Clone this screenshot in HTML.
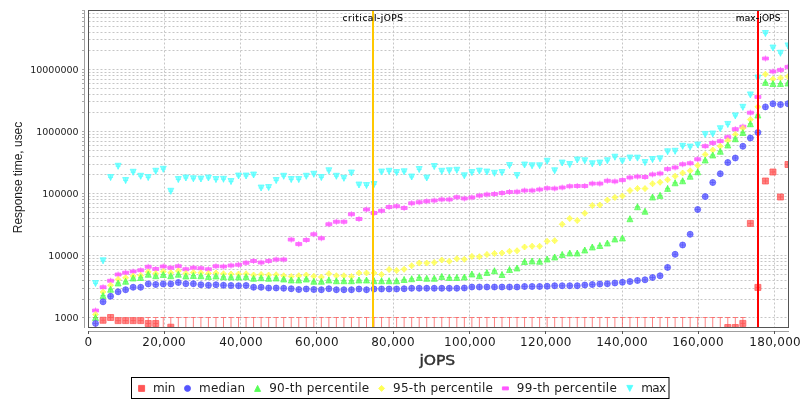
<!DOCTYPE html>
<html><head><meta charset="utf-8"><title>Response time vs jOPS</title>
<style>html,body{margin:0;padding:0;background:#fff;}body{width:800px;height:400px;overflow:hidden;}svg{display:block;}text{font-family:"DejaVu Sans","Liberation Sans",sans-serif;fill:#1c1c1c;}.yl{font-family:"Liberation Sans","DejaVu Sans",sans-serif;}</style></head><body>
<svg width="800" height="400" viewBox="0 0 800 400" style="will-change:transform">
<rect x="0" y="0" width="800" height="400" fill="#ffffff"/>
<defs><clipPath id="cp"><rect x="88.5" y="10.5" width="700" height="317"/></clipPath></defs>
<g stroke="#c0c0c0" stroke-width="1" stroke-dasharray="2,2" fill="none" shape-rendering="auto" opacity="0.9">
<line x1="88.5" y1="317.5" x2="788.5" y2="317.5"/>
<line x1="88.5" y1="299.5" x2="788.5" y2="299.5"/>
<line x1="88.5" y1="288.5" x2="788.5" y2="288.5"/>
<line x1="88.5" y1="280.5" x2="788.5" y2="280.5"/>
<line x1="88.5" y1="274.5" x2="788.5" y2="274.5"/>
<line x1="88.5" y1="269.5" x2="788.5" y2="269.5"/>
<line x1="88.5" y1="265.5" x2="788.5" y2="265.5"/>
<line x1="88.5" y1="261.5" x2="788.5" y2="261.5"/>
<line x1="88.5" y1="258.5" x2="788.5" y2="258.5"/>
<line x1="88.5" y1="255.5" x2="788.5" y2="255.5"/>
<line x1="88.5" y1="236.5" x2="788.5" y2="236.5"/>
<line x1="88.5" y1="226.5" x2="788.5" y2="226.5"/>
<line x1="88.5" y1="218.5" x2="788.5" y2="218.5"/>
<line x1="88.5" y1="212.5" x2="788.5" y2="212.5"/>
<line x1="88.5" y1="207.5" x2="788.5" y2="207.5"/>
<line x1="88.5" y1="203.5" x2="788.5" y2="203.5"/>
<line x1="88.5" y1="199.5" x2="788.5" y2="199.5"/>
<line x1="88.5" y1="196.5" x2="788.5" y2="196.5"/>
<line x1="88.5" y1="193.5" x2="788.5" y2="193.5"/>
<line x1="88.5" y1="174.5" x2="788.5" y2="174.5"/>
<line x1="88.5" y1="164.5" x2="788.5" y2="164.5"/>
<line x1="88.5" y1="156.5" x2="788.5" y2="156.5"/>
<line x1="88.5" y1="150.5" x2="788.5" y2="150.5"/>
<line x1="88.5" y1="145.5" x2="788.5" y2="145.5"/>
<line x1="88.5" y1="141.5" x2="788.5" y2="141.5"/>
<line x1="88.5" y1="137.5" x2="788.5" y2="137.5"/>
<line x1="88.5" y1="134.5" x2="788.5" y2="134.5"/>
<line x1="88.5" y1="131.5" x2="788.5" y2="131.5"/>
<line x1="88.5" y1="112.5" x2="788.5" y2="112.5"/>
<line x1="88.5" y1="101.5" x2="788.5" y2="101.5"/>
<line x1="88.5" y1="94.5" x2="788.5" y2="94.5"/>
<line x1="88.5" y1="88.5" x2="788.5" y2="88.5"/>
<line x1="88.5" y1="83.5" x2="788.5" y2="83.5"/>
<line x1="88.5" y1="79.5" x2="788.5" y2="79.5"/>
<line x1="88.5" y1="75.5" x2="788.5" y2="75.5"/>
<line x1="88.5" y1="72.5" x2="788.5" y2="72.5"/>
<line x1="88.5" y1="69.5" x2="788.5" y2="69.5"/>
<line x1="88.5" y1="50.5" x2="788.5" y2="50.5"/>
<line x1="88.5" y1="39.5" x2="788.5" y2="39.5"/>
<line x1="88.5" y1="32.5" x2="788.5" y2="32.5"/>
<line x1="88.5" y1="26.5" x2="788.5" y2="26.5"/>
<line x1="88.5" y1="21.5" x2="788.5" y2="21.5"/>
<line x1="88.5" y1="17.5" x2="788.5" y2="17.5"/>
<line x1="88.5" y1="13.5" x2="788.5" y2="13.5"/>
<line x1="164.5" y1="10.5" x2="164.5" y2="327.5"/>
<line x1="240.5" y1="10.5" x2="240.5" y2="327.5"/>
<line x1="316.5" y1="10.5" x2="316.5" y2="327.5"/>
<line x1="393.5" y1="10.5" x2="393.5" y2="327.5"/>
<line x1="469.5" y1="10.5" x2="469.5" y2="327.5"/>
<line x1="545.5" y1="10.5" x2="545.5" y2="327.5"/>
<line x1="622.5" y1="10.5" x2="622.5" y2="327.5"/>
<line x1="698.5" y1="10.5" x2="698.5" y2="327.5"/>
<line x1="774.5" y1="10.5" x2="774.5" y2="327.5"/>
</g>
<g clip-path="url(#cp)">
<path d="M93.03 283.50h5M95.53 280.50v6M100.55 260.80h5M103.05 257.80v6M108.08 177.50h5M110.58 174.50v6M115.61 166.25h5M118.11 163.25v6M123.13 180.50h5M125.63 177.50v6M130.66 172.25h5M133.16 169.25v6M138.19 176.25h5M140.69 173.25v6M145.72 177.50h5M148.22 174.50v6M153.24 171.25h5M155.74 168.25v6M160.77 169.25h5M163.27 166.25v6M168.30 191.25h5M170.80 188.25v6M175.82 179.50h5M178.32 176.50v6M183.35 178.00h5M185.85 175.00v6M190.88 178.75h5M193.38 175.75v6M198.41 179.00h5M200.91 176.00v6M205.93 178.00h5M208.43 175.00v6M213.46 179.50h5M215.96 176.50v6M220.99 179.25h5M223.49 176.25v6M228.51 181.50h5M231.01 178.50v6M236.04 176.00h5M238.54 173.00v6M243.57 176.00h5M246.07 173.00v6M251.09 175.00h5M253.59 172.00v6M258.62 188.00h5M261.12 185.00v6M266.15 187.50h5M268.65 184.50v6M273.68 180.50h5M276.18 177.50v6M281.20 176.25h5M283.70 173.25v6M288.73 179.50h5M291.23 176.50v6M296.26 179.50h5M298.76 176.50v6M303.78 176.25h5M306.28 173.25v6M311.31 174.25h5M313.81 171.25v6M318.84 177.50h5M321.34 174.50v6M326.36 170.75h5M328.86 167.75v6M333.89 176.25h5M336.39 173.25v6M341.42 178.25h5M343.92 175.25v6M348.94 173.00h5M351.44 170.00v6M356.47 185.00h5M358.97 182.00v6M364.00 185.50h5M366.50 182.50v6M371.53 184.50h5M374.03 181.50v6M379.05 172.00h5M381.55 169.00v6M386.58 171.25h5M389.08 168.25v6M394.11 172.50h5M396.61 169.50v6M401.63 171.75h5M404.13 168.75v6M409.16 177.00h5M411.66 174.00v6M416.69 169.50h5M419.19 166.50v6M424.22 178.00h5M426.72 175.00v6M431.74 166.50h5M434.24 163.50v6M439.27 171.25h5M441.77 168.25v6M446.80 170.75h5M449.30 167.75v6M454.32 170.25h5M456.82 167.25v6M461.85 175.75h5M464.35 172.75v6M469.38 172.50h5M471.88 169.50v6M476.90 171.10h5M479.40 168.10v6M484.43 172.00h5M486.93 169.00v6M491.96 173.25h5M494.46 170.25v6M499.49 172.50h5M501.99 169.50v6M507.01 165.50h5M509.51 162.50v6M514.54 175.50h5M517.04 172.50v6M522.07 165.00h5M524.57 162.00v6M529.59 165.75h5M532.09 162.75v6M537.12 165.75h5M539.62 162.75v6M544.65 161.25h5M547.15 158.25v6M552.17 170.75h5M554.67 167.75v6M559.70 163.00h5M562.20 160.00v6M567.23 164.50h5M569.73 161.50v6M574.75 160.00h5M577.25 157.00v6M582.28 160.75h5M584.78 157.75v6M589.81 163.75h5M592.31 160.75v6M597.34 163.00h5M599.84 160.00v6M604.86 160.75h5M607.36 157.75v6M612.39 157.20h5M614.89 154.20v6M619.92 161.00h5M622.42 158.00v6M627.44 158.00h5M629.94 155.00v6M634.97 158.10h5M637.47 155.10v6M642.50 162.50h5M645.00 159.50v6M650.02 159.50h5M652.52 156.50v6M657.55 158.75h5M660.05 155.75v6M665.08 151.75h5M667.58 148.75v6M672.61 151.25h5M675.11 148.25v6M680.13 146.25h5M682.63 143.25v6M687.66 147.00h5M690.16 144.00v6M695.19 145.00h5M697.69 142.00v6M702.71 134.45h5M705.21 131.45v6M710.24 133.95h5M712.74 130.95v6M717.77 128.70h5M720.27 125.70v6M725.29 124.45h5M727.79 121.45v6M732.82 115.90h5M735.32 112.90v6M740.35 107.30h5M742.85 104.30v6M747.88 94.90h5M750.38 91.90v6M755.40 78.00h5M757.90 75.00v6M762.93 33.50h5M765.43 30.50v6M770.46 48.00h5M772.96 45.00v6M777.98 53.25h5M780.48 50.25v6M785.51 45.90h5M788.01 42.90v6" fill="none" stroke="rgb(85,255,255)" stroke-width="1" stroke-opacity="0.72"/>
<path d="M93.03 310.50h5M95.53 307.50v6M100.55 287.25h5M103.05 284.25v6M108.08 280.75h5M110.58 277.75v6M115.61 274.50h5M118.11 271.50v6M123.13 272.75h5M125.63 269.75v6M130.66 271.50h5M133.16 268.50v6M138.19 270.25h5M140.69 267.25v6M145.72 266.75h5M148.22 263.75v6M153.24 269.00h5M155.74 266.00v6M160.77 266.50h5M163.27 263.50v6M168.30 267.75h5M170.80 264.75v6M175.82 266.25h5M178.32 263.25v6M183.35 269.25h5M185.85 266.25v6M190.88 267.75h5M193.38 264.75v6M198.41 268.25h5M200.91 265.25v6M205.93 269.25h5M208.43 266.25v6M213.46 266.25h5M215.96 263.25v6M220.99 266.50h5M223.49 263.50v6M228.51 265.50h5M231.01 262.50v6M236.04 264.75h5M238.54 261.75v6M243.57 262.75h5M246.07 259.75v6M251.09 261.00h5M253.59 258.00v6M258.62 262.50h5M261.12 259.50v6M266.15 261.00h5M268.65 258.00v6M273.68 259.50h5M276.18 256.50v6M281.20 259.50h5M283.70 256.50v6M288.73 239.60h5M291.23 236.60v6M296.26 244.10h5M298.76 241.10v6M303.78 240.00h5M306.28 237.00v6M311.31 234.25h5M313.81 231.25v6M318.84 238.25h5M321.34 235.25v6M326.36 224.25h5M328.86 221.25v6M333.89 221.75h5M336.39 218.75v6M341.42 221.75h5M343.92 218.75v6M348.94 214.25h5M351.44 211.25v6M356.47 219.00h5M358.97 216.00v6M364.00 209.50h5M366.50 206.50v6M371.53 213.00h5M374.03 210.00v6M379.05 210.75h5M381.55 207.75v6M386.58 207.00h5M389.08 204.00v6M394.11 206.25h5M396.61 203.25v6M401.63 208.00h5M404.13 205.00v6M409.16 203.25h5M411.66 200.25v6M416.69 202.25h5M419.19 199.25v6M424.22 201.25h5M426.72 198.25v6M431.74 200.50h5M434.24 197.50v6M439.27 199.50h5M441.77 196.50v6M446.80 199.50h5M449.30 196.50v6M454.32 197.25h5M456.82 194.25v6M461.85 198.50h5M464.35 195.50v6M469.38 197.40h5M471.88 194.40v6M476.90 195.60h5M479.40 192.60v6M484.43 194.50h5M486.93 191.50v6M491.96 194.00h5M494.46 191.00v6M499.49 193.00h5M501.99 190.00v6M507.01 192.00h5M509.51 189.00v6M514.54 191.75h5M517.04 188.75v6M522.07 190.50h5M524.57 187.50v6M529.59 190.50h5M532.09 187.50v6M537.12 189.50h5M539.62 186.50v6M544.65 188.25h5M547.15 185.25v6M552.17 188.50h5M554.67 185.50v6M559.70 187.50h5M562.20 184.50v6M567.23 186.25h5M569.73 183.25v6M574.75 186.00h5M577.25 183.00v6M582.28 186.00h5M584.78 183.00v6M589.81 183.60h5M592.31 180.60v6M597.34 183.60h5M599.84 180.60v6M604.86 180.75h5M607.36 177.75v6M612.39 181.40h5M614.89 178.40v6M619.92 180.10h5M622.42 177.10v6M627.44 177.50h5M629.94 174.50v6M634.97 176.60h5M637.47 173.60v6M642.50 177.00h5M645.00 174.00v6M650.02 174.40h5M652.52 171.40v6M657.55 173.50h5M660.05 170.50v6M665.08 169.10h5M667.58 166.10v6M672.61 167.50h5M675.11 164.50v6M680.13 164.25h5M682.63 161.25v6M687.66 163.25h5M690.16 160.25v6M695.19 159.25h5M697.69 156.25v6M702.71 146.15h5M705.21 143.15v6M710.24 142.90h5M712.74 139.90v6M717.77 141.15h5M720.27 138.15v6M725.29 137.15h5M727.79 134.15v6M732.82 129.15h5M735.32 126.15v6M740.35 126.65h5M742.85 123.65v6M747.88 112.70h5M750.38 109.70v6M755.40 96.90h5M757.90 93.90v6M762.93 58.50h5M765.43 55.50v6M770.46 71.50h5M772.96 68.50v6M777.98 69.90h5M780.48 66.90v6M785.51 66.90h5M788.01 63.90v6" fill="none" stroke="rgb(255,85,255)" stroke-width="1" stroke-opacity="0.72"/>
<path d="M93.03 314.50h5M95.53 311.50v6M100.55 292.00h5M103.05 289.00v6M108.08 285.25h5M110.58 282.25v6M115.61 279.40h5M118.11 276.40v6M123.13 277.75h5M125.63 274.75v6M130.66 276.00h5M133.16 273.00v6M138.19 275.40h5M140.69 272.40v6M145.72 271.90h5M148.22 268.90v6M153.24 273.50h5M155.74 270.50v6M160.77 271.60h5M163.27 268.60v6M168.30 272.75h5M170.80 269.75v6M175.82 270.90h5M178.32 267.90v6M183.35 273.50h5M185.85 270.50v6M190.88 272.50h5M193.38 269.50v6M198.41 272.75h5M200.91 269.75v6M205.93 273.50h5M208.43 270.50v6M213.46 273.00h5M215.96 270.00v6M220.99 273.75h5M223.49 270.75v6M228.51 274.00h5M231.01 271.00v6M236.04 274.00h5M238.54 271.00v6M243.57 273.75h5M246.07 270.75v6M251.09 275.00h5M253.59 272.00v6M258.62 274.50h5M261.12 271.50v6M266.15 275.00h5M268.65 272.00v6M273.68 274.75h5M276.18 271.75v6M281.20 275.75h5M283.70 272.75v6M288.73 276.50h5M291.23 273.50v6M296.26 275.75h5M298.76 272.75v6M303.78 275.00h5M306.28 272.00v6M311.31 276.25h5M313.81 273.25v6M318.84 277.00h5M321.34 274.00v6M326.36 273.75h5M328.86 270.75v6M333.89 275.75h5M336.39 272.75v6M341.42 275.75h5M343.92 272.75v6M348.94 276.50h5M351.44 273.50v6M356.47 273.00h5M358.97 270.00v6M364.00 273.00h5M366.50 270.00v6M371.53 273.00h5M374.03 270.00v6M379.05 274.50h5M381.55 271.50v6M386.58 269.50h5M389.08 266.50v6M394.11 270.50h5M396.61 267.50v6M401.63 269.25h5M404.13 266.25v6M409.16 265.75h5M411.66 262.75v6M416.69 263.00h5M419.19 260.00v6M424.22 263.00h5M426.72 260.00v6M431.74 262.50h5M434.24 259.50v6M439.27 260.00h5M441.77 257.00v6M446.80 261.25h5M449.30 258.25v6M454.32 258.75h5M456.82 255.75v6M461.85 259.25h5M464.35 256.25v6M469.38 256.40h5M471.88 253.40v6M476.90 256.75h5M479.40 253.75v6M484.43 254.50h5M486.93 251.50v6M491.96 253.50h5M494.46 250.50v6M499.49 253.00h5M501.99 250.00v6M507.01 251.25h5M509.51 248.25v6M514.54 250.75h5M517.04 247.75v6M522.07 247.00h5M524.57 244.00v6M529.59 246.25h5M532.09 243.25v6M537.12 246.25h5M539.62 243.25v6M544.65 241.25h5M547.15 238.25v6M552.17 240.70h5M554.67 237.70v6M559.70 224.25h5M562.20 221.25v6M567.23 218.50h5M569.73 215.50v6M574.75 220.50h5M577.25 217.50v6M582.28 213.25h5M584.78 210.25v6M589.81 205.50h5M592.31 202.50v6M597.34 205.00h5M599.84 202.00v6M604.86 200.00h5M607.36 197.00v6M612.39 197.40h5M614.89 194.40v6M619.92 196.00h5M622.42 193.00v6M627.44 190.50h5M629.94 187.50v6M634.97 188.50h5M637.47 185.50v6M642.50 188.60h5M645.00 185.60v6M650.02 183.75h5M652.52 180.75v6M657.55 182.25h5M660.05 179.25v6M665.08 179.75h5M667.58 176.75v6M672.61 176.25h5M675.11 173.25v6M680.13 173.00h5M682.63 170.00v6M687.66 170.75h5M690.16 167.75v6M695.19 165.50h5M697.69 162.50v6M702.71 154.50h5M705.21 151.50v6M710.24 150.00h5M712.74 147.00v6M717.77 146.25h5M720.27 143.25v6M725.29 140.50h5M727.79 137.50v6M732.82 134.50h5M735.32 131.50v6M740.35 128.25h5M742.85 125.25v6M747.88 119.50h5M750.38 116.50v6M755.40 106.80h5M757.90 103.80v6M762.93 74.20h5M765.43 71.20v6M770.46 79.10h5M772.96 76.10v6M777.98 77.90h5M780.48 74.90v6M785.51 76.60h5M788.01 73.60v6" fill="none" stroke="rgb(255,255,85)" stroke-width="1" stroke-opacity="0.72"/>
<path d="M93.03 317.50h5M95.53 314.50v6M100.55 295.50h5M103.05 292.50v6M108.08 289.25h5M110.58 286.25v6M115.61 283.00h5M118.11 280.00v6M123.13 281.25h5M125.63 278.25v6M130.66 278.00h5M133.16 275.00v6M138.19 277.50h5M140.69 274.50v6M145.72 274.25h5M148.22 271.25v6M153.24 275.75h5M155.74 272.75v6M160.77 274.50h5M163.27 271.50v6M168.30 275.75h5M170.80 272.75v6M175.82 274.25h5M178.32 271.25v6M183.35 276.00h5M185.85 273.00v6M190.88 275.50h5M193.38 272.50v6M198.41 275.75h5M200.91 272.75v6M205.93 276.50h5M208.43 273.50v6M213.46 276.00h5M215.96 273.00v6M220.99 276.75h5M223.49 273.75v6M228.51 277.00h5M231.01 274.00v6M236.04 277.00h5M238.54 274.00v6M243.57 276.75h5M246.07 273.75v6M251.09 278.25h5M253.59 275.25v6M258.62 277.75h5M261.12 274.75v6M266.15 278.25h5M268.65 275.25v6M273.68 278.00h5M276.18 275.00v6M281.20 279.00h5M283.70 276.00v6M288.73 280.00h5M291.23 277.00v6M296.26 280.00h5M298.76 277.00v6M303.78 279.00h5M306.28 276.00v6M311.31 281.25h5M313.81 278.25v6M318.84 281.25h5M321.34 278.25v6M326.36 280.00h5M328.86 277.00v6M333.89 280.75h5M336.39 277.75v6M341.42 280.75h5M343.92 277.75v6M348.94 280.75h5M351.44 277.75v6M356.47 280.00h5M358.97 277.00v6M364.00 280.00h5M366.50 277.00v6M371.53 280.75h5M374.03 277.75v6M379.05 280.75h5M381.55 277.75v6M386.58 280.75h5M389.08 277.75v6M394.11 280.75h5M396.61 277.75v6M401.63 279.50h5M404.13 276.50v6M409.16 278.75h5M411.66 275.75v6M416.69 277.50h5M419.19 274.50v6M424.22 278.25h5M426.72 275.25v6M431.74 278.25h5M434.24 275.25v6M439.27 276.50h5M441.77 273.50v6M446.80 277.50h5M449.30 274.50v6M454.32 277.50h5M456.82 274.50v6M461.85 277.00h5M464.35 274.00v6M469.38 274.00h5M471.88 271.00v6M476.90 275.75h5M479.40 272.75v6M484.43 272.50h5M486.93 269.50v6M491.96 270.75h5M494.46 267.75v6M499.49 274.50h5M501.99 271.50v6M507.01 269.50h5M509.51 266.50v6M514.54 268.00h5M517.04 265.00v6M522.07 261.50h5M524.57 258.50v6M529.59 261.00h5M532.09 258.00v6M537.12 261.25h5M539.62 258.25v6M544.65 259.00h5M547.15 256.00v6M552.17 257.00h5M554.67 254.00v6M559.70 254.50h5M562.20 251.50v6M567.23 253.00h5M569.73 250.00v6M574.75 253.00h5M577.25 250.00v6M582.28 250.00h5M584.78 247.00v6M589.81 247.00h5M592.31 244.00v6M597.34 245.50h5M599.84 242.50v6M604.86 243.00h5M607.36 240.00v6M612.39 239.00h5M614.89 236.00v6M619.92 238.00h5M622.42 235.00v6M627.44 218.75h5M629.94 215.75v6M634.97 206.75h5M637.47 203.75v6M642.50 211.25h5M645.00 208.25v6M650.02 197.00h5M652.52 194.00v6M657.55 195.40h5M660.05 192.40v6M665.08 188.40h5M667.58 185.40v6M672.61 182.80h5M675.11 179.80v6M680.13 180.80h5M682.63 177.80v6M687.66 176.25h5M690.16 173.25v6M695.19 171.75h5M697.69 168.75v6M702.71 160.00h5M705.21 157.00v6M710.24 155.00h5M712.74 152.00v6M717.77 151.25h5M720.27 148.25v6M725.29 145.00h5M727.79 142.00v6M732.82 138.75h5M735.32 135.75v6M740.35 132.50h5M742.85 129.50v6M747.88 123.75h5M750.38 120.75v6M755.40 115.00h5M757.90 112.00v6M762.93 82.40h5M765.43 79.40v6M770.46 83.50h5M772.96 80.50v6M777.98 83.50h5M780.48 80.50v6M785.51 83.00h5M788.01 80.00v6" fill="none" stroke="rgb(85,255,85)" stroke-width="1" stroke-opacity="0.72"/>
<path d="M93.03 323.40h5M95.53 320.40v6M100.55 301.80h5M103.05 298.80v6M108.08 296.25h5M110.58 293.25v6M115.61 291.80h5M118.11 288.80v6M123.13 289.75h5M125.63 286.75v6M130.66 287.25h5M133.16 284.25v6M138.19 287.25h5M140.69 284.25v6M145.72 283.90h5M148.22 280.90v6M153.24 284.50h5M155.74 281.50v6M160.77 283.90h5M163.27 280.90v6M168.30 283.90h5M170.80 280.90v6M175.82 282.50h5M178.32 279.50v6M183.35 283.75h5M185.85 280.75v6M190.88 283.75h5M193.38 280.75v6M198.41 284.75h5M200.91 281.75v6M205.93 285.25h5M208.43 282.25v6M213.46 284.75h5M215.96 281.75v6M220.99 285.25h5M223.49 282.25v6M228.51 285.50h5M231.01 282.50v6M236.04 285.75h5M238.54 282.75v6M243.57 285.50h5M246.07 282.50v6M251.09 287.25h5M253.59 284.25v6M258.62 287.25h5M261.12 284.25v6M266.15 288.00h5M268.65 285.00v6M273.68 288.00h5M276.18 285.00v6M281.20 288.25h5M283.70 285.25v6M288.73 288.75h5M291.23 285.75v6M296.26 289.50h5M298.76 286.50v6M303.78 289.00h5M306.28 286.00v6M311.31 289.50h5M313.81 286.50v6M318.84 289.75h5M321.34 286.75v6M326.36 288.75h5M328.86 285.75v6M333.89 289.75h5M336.39 286.75v6M341.42 289.75h5M343.92 286.75v6M348.94 289.75h5M351.44 286.75v6M356.47 289.00h5M358.97 286.00v6M364.00 289.75h5M366.50 286.75v6M371.53 289.00h5M374.03 286.00v6M379.05 289.00h5M381.55 286.00v6M386.58 289.00h5M389.08 286.00v6M394.11 289.00h5M396.61 286.00v6M401.63 288.75h5M404.13 285.75v6M409.16 288.25h5M411.66 285.25v6M416.69 288.25h5M419.19 285.25v6M424.22 288.25h5M426.72 285.25v6M431.74 288.25h5M434.24 285.25v6M439.27 288.25h5M441.77 285.25v6M446.80 288.25h5M449.30 285.25v6M454.32 288.25h5M456.82 285.25v6M461.85 288.00h5M464.35 285.00v6M469.38 287.00h5M471.88 284.00v6M476.90 287.00h5M479.40 284.00v6M484.43 287.00h5M486.93 284.00v6M491.96 287.00h5M494.46 284.00v6M499.49 287.00h5M501.99 284.00v6M507.01 287.00h5M509.51 284.00v6M514.54 287.00h5M517.04 284.00v6M522.07 286.50h5M524.57 283.50v6M529.59 286.50h5M532.09 283.50v6M537.12 286.50h5M539.62 283.50v6M544.65 286.25h5M547.15 283.25v6M552.17 285.75h5M554.67 282.75v6M559.70 285.75h5M562.20 282.75v6M567.23 285.75h5M569.73 282.75v6M574.75 285.75h5M577.25 282.75v6M582.28 285.00h5M584.78 282.00v6M589.81 284.50h5M592.31 281.50v6M597.34 284.00h5M599.84 281.00v6M604.86 283.75h5M607.36 280.75v6M612.39 283.00h5M614.89 280.00v6M619.92 282.25h5M622.42 279.25v6M627.44 281.50h5M629.94 278.50v6M634.97 280.50h5M637.47 277.50v6M642.50 279.80h5M645.00 276.80v6M650.02 277.50h5M652.52 274.50v6M657.55 275.80h5M660.05 272.80v6M665.08 267.40h5M667.58 264.40v6M672.61 254.30h5M675.11 251.30v6M680.13 245.00h5M682.63 242.00v6M687.66 234.25h5M690.16 231.25v6M695.19 209.50h5M697.69 206.50v6M702.71 196.60h5M705.21 193.60v6M710.24 182.50h5M712.74 179.50v6M717.77 173.75h5M720.27 170.75v6M725.29 162.50h5M727.79 159.50v6M732.82 158.00h5M735.32 155.00v6M740.35 146.25h5M742.85 143.25v6M747.88 138.00h5M750.38 135.00v6M755.40 132.50h5M757.90 129.50v6M762.93 106.90h5M765.43 103.90v6M770.46 103.75h5M772.96 100.75v6M777.98 104.60h5M780.48 101.60v6M785.51 103.75h5M788.01 100.75v6" fill="none" stroke="rgb(85,85,255)" stroke-width="1" stroke-opacity="0.72"/>
<path d="M93.03 317.5h5M95.53 317.5V328M145.72 317.5h5M148.22 317.5V328M153.24 317.5h5M155.74 317.5V328M160.77 317.5h5M163.27 317.5V328M168.30 317.5h5M170.80 317.5V328M175.82 317.5h5M178.32 317.5V328M183.35 317.5h5M185.85 317.5V328M190.88 317.5h5M193.38 317.5V328M198.41 317.5h5M200.91 317.5V328M205.93 317.5h5M208.43 317.5V328M213.46 317.5h5M215.96 317.5V328M220.99 317.5h5M223.49 317.5V328M228.51 317.5h5M231.01 317.5V328M236.04 317.5h5M238.54 317.5V328M243.57 317.5h5M246.07 317.5V328M251.09 317.5h5M253.59 317.5V328M258.62 317.5h5M261.12 317.5V328M266.15 317.5h5M268.65 317.5V328M273.68 317.5h5M276.18 317.5V328M281.20 317.5h5M283.70 317.5V328M288.73 317.5h5M291.23 317.5V328M296.26 317.5h5M298.76 317.5V328M303.78 317.5h5M306.28 317.5V328M311.31 317.5h5M313.81 317.5V328M318.84 317.5h5M321.34 317.5V328M326.36 317.5h5M328.86 317.5V328M333.89 317.5h5M336.39 317.5V328M341.42 317.5h5M343.92 317.5V328M348.94 317.5h5M351.44 317.5V328M356.47 317.5h5M358.97 317.5V328M364.00 317.5h5M366.50 317.5V328M371.53 317.5h5M374.03 317.5V328M379.05 317.5h5M381.55 317.5V328M386.58 317.5h5M389.08 317.5V328M394.11 317.5h5M396.61 317.5V328M401.63 317.5h5M404.13 317.5V328M409.16 317.5h5M411.66 317.5V328M416.69 317.5h5M419.19 317.5V328M424.22 317.5h5M426.72 317.5V328M431.74 317.5h5M434.24 317.5V328M439.27 317.5h5M441.77 317.5V328M446.80 317.5h5M449.30 317.5V328M454.32 317.5h5M456.82 317.5V328M461.85 317.5h5M464.35 317.5V328M469.38 317.5h5M471.88 317.5V328M476.90 317.5h5M479.40 317.5V328M484.43 317.5h5M486.93 317.5V328M491.96 317.5h5M494.46 317.5V328M499.49 317.5h5M501.99 317.5V328M507.01 317.5h5M509.51 317.5V328M514.54 317.5h5M517.04 317.5V328M522.07 317.5h5M524.57 317.5V328M529.59 317.5h5M532.09 317.5V328M537.12 317.5h5M539.62 317.5V328M544.65 317.5h5M547.15 317.5V328M552.17 317.5h5M554.67 317.5V328M559.70 317.5h5M562.20 317.5V328M567.23 317.5h5M569.73 317.5V328M574.75 317.5h5M577.25 317.5V328M582.28 317.5h5M584.78 317.5V328M589.81 317.5h5M592.31 317.5V328M597.34 317.5h5M599.84 317.5V328M604.86 317.5h5M607.36 317.5V328M612.39 317.5h5M614.89 317.5V328M619.92 317.5h5M622.42 317.5V328M627.44 317.5h5M629.94 317.5V328M634.97 317.5h5M637.47 317.5V328M642.50 317.5h5M645.00 317.5V328M650.02 317.5h5M652.52 317.5V328M657.55 317.5h5M660.05 317.5V328M665.08 317.5h5M667.58 317.5V328M672.61 317.5h5M675.11 317.5V328M680.13 317.5h5M682.63 317.5V328M687.66 317.5h5M690.16 317.5V328M695.19 317.5h5M697.69 317.5V328M702.71 317.5h5M705.21 317.5V328M710.24 317.5h5M712.74 317.5V328M717.77 317.5h5M720.27 317.5V328M725.29 317.5h5M727.79 317.5V328M732.82 317.5h5M735.32 317.5V328M740.35 317.5h5M742.85 317.5V328M100.55 320.25h5M103.05 317.25v6M108.08 317.50h5M110.58 314.50v6M115.61 320.60h5M118.11 317.60v6M123.13 320.60h5M125.63 317.60v6M130.66 320.60h5M133.16 317.60v6M138.19 320.60h5M140.69 317.60v6M145.72 323.50h5M148.22 320.50v6M153.24 323.50h5M155.74 320.50v6M168.30 327.20h5M170.80 324.20v6M725.29 327.50h5M727.79 324.50v6M732.82 327.50h5M735.32 324.50v6M740.35 323.40h5M742.85 320.40v6M747.88 223.40h5M750.38 220.40v6M755.40 287.40h5M757.90 284.40v6M762.93 181.00h5M765.43 178.00v6M770.46 172.00h5M772.96 169.00v6M777.98 197.00h5M780.48 194.00v6M785.51 164.50h5M788.01 161.50v6" fill="none" stroke="rgb(255,85,85)" stroke-width="1" stroke-opacity="0.72"/>
<path d="M92.53 280.50h6l-3 6zM100.05 257.80h6l-3 6zM107.58 174.50h6l-3 6zM115.11 163.25h6l-3 6zM122.63 177.50h6l-3 6zM130.16 169.25h6l-3 6zM137.69 173.25h6l-3 6zM145.22 174.50h6l-3 6zM152.74 168.25h6l-3 6zM160.27 166.25h6l-3 6zM167.80 188.25h6l-3 6zM175.32 176.50h6l-3 6zM182.85 175.00h6l-3 6zM190.38 175.75h6l-3 6zM197.91 176.00h6l-3 6zM205.43 175.00h6l-3 6zM212.96 176.50h6l-3 6zM220.49 176.25h6l-3 6zM228.01 178.50h6l-3 6zM235.54 173.00h6l-3 6zM243.07 173.00h6l-3 6zM250.59 172.00h6l-3 6zM258.12 185.00h6l-3 6zM265.65 184.50h6l-3 6zM273.18 177.50h6l-3 6zM280.70 173.25h6l-3 6zM288.23 176.50h6l-3 6zM295.76 176.50h6l-3 6zM303.28 173.25h6l-3 6zM310.81 171.25h6l-3 6zM318.34 174.50h6l-3 6zM325.86 167.75h6l-3 6zM333.39 173.25h6l-3 6zM340.92 175.25h6l-3 6zM348.44 170.00h6l-3 6zM355.97 182.00h6l-3 6zM363.50 182.50h6l-3 6zM371.03 181.50h6l-3 6zM378.55 169.00h6l-3 6zM386.08 168.25h6l-3 6zM393.61 169.50h6l-3 6zM401.13 168.75h6l-3 6zM408.66 174.00h6l-3 6zM416.19 166.50h6l-3 6zM423.72 175.00h6l-3 6zM431.24 163.50h6l-3 6zM438.77 168.25h6l-3 6zM446.30 167.75h6l-3 6zM453.82 167.25h6l-3 6zM461.35 172.75h6l-3 6zM468.88 169.50h6l-3 6zM476.40 168.10h6l-3 6zM483.93 169.00h6l-3 6zM491.46 170.25h6l-3 6zM498.99 169.50h6l-3 6zM506.51 162.50h6l-3 6zM514.04 172.50h6l-3 6zM521.57 162.00h6l-3 6zM529.09 162.75h6l-3 6zM536.62 162.75h6l-3 6zM544.15 158.25h6l-3 6zM551.67 167.75h6l-3 6zM559.20 160.00h6l-3 6zM566.73 161.50h6l-3 6zM574.25 157.00h6l-3 6zM581.78 157.75h6l-3 6zM589.31 160.75h6l-3 6zM596.84 160.00h6l-3 6zM604.36 157.75h6l-3 6zM611.89 154.20h6l-3 6zM619.42 158.00h6l-3 6zM626.94 155.00h6l-3 6zM634.47 155.10h6l-3 6zM642.00 159.50h6l-3 6zM649.52 156.50h6l-3 6zM657.05 155.75h6l-3 6zM664.58 148.75h6l-3 6zM672.11 148.25h6l-3 6zM679.63 143.25h6l-3 6zM687.16 144.00h6l-3 6zM694.69 142.00h6l-3 6zM702.21 131.45h6l-3 6zM709.74 130.95h6l-3 6zM717.27 125.70h6l-3 6zM724.79 121.45h6l-3 6zM732.32 112.90h6l-3 6zM739.85 104.30h6l-3 6zM747.38 91.90h6l-3 6zM754.90 75.00h6l-3 6zM762.43 30.50h6l-3 6zM769.96 45.00h6l-3 6zM777.48 50.25h6l-3 6zM785.01 42.90h6l-3 6z" stroke="none" fill="rgb(85,255,255)" fill-opacity="0.72"/>
<path d="M92.53 280.50h6l-3 6zM100.05 257.80h6l-3 6zM107.58 174.50h6l-3 6zM115.11 163.25h6l-3 6zM122.63 177.50h6l-3 6zM130.16 169.25h6l-3 6zM137.69 173.25h6l-3 6zM145.22 174.50h6l-3 6zM152.74 168.25h6l-3 6zM160.27 166.25h6l-3 6zM167.80 188.25h6l-3 6zM175.32 176.50h6l-3 6zM182.85 175.00h6l-3 6zM190.38 175.75h6l-3 6zM197.91 176.00h6l-3 6zM205.43 175.00h6l-3 6zM212.96 176.50h6l-3 6zM220.49 176.25h6l-3 6zM228.01 178.50h6l-3 6zM235.54 173.00h6l-3 6zM243.07 173.00h6l-3 6zM250.59 172.00h6l-3 6zM258.12 185.00h6l-3 6zM265.65 184.50h6l-3 6zM273.18 177.50h6l-3 6zM280.70 173.25h6l-3 6zM288.23 176.50h6l-3 6zM295.76 176.50h6l-3 6zM303.28 173.25h6l-3 6zM310.81 171.25h6l-3 6zM318.34 174.50h6l-3 6zM325.86 167.75h6l-3 6zM333.39 173.25h6l-3 6zM340.92 175.25h6l-3 6zM348.44 170.00h6l-3 6zM355.97 182.00h6l-3 6zM363.50 182.50h6l-3 6zM371.03 181.50h6l-3 6zM378.55 169.00h6l-3 6zM386.08 168.25h6l-3 6zM393.61 169.50h6l-3 6zM401.13 168.75h6l-3 6zM408.66 174.00h6l-3 6zM416.19 166.50h6l-3 6zM423.72 175.00h6l-3 6zM431.24 163.50h6l-3 6zM438.77 168.25h6l-3 6zM446.30 167.75h6l-3 6zM453.82 167.25h6l-3 6zM461.35 172.75h6l-3 6zM468.88 169.50h6l-3 6zM476.40 168.10h6l-3 6zM483.93 169.00h6l-3 6zM491.46 170.25h6l-3 6zM498.99 169.50h6l-3 6zM506.51 162.50h6l-3 6zM514.04 172.50h6l-3 6zM521.57 162.00h6l-3 6zM529.09 162.75h6l-3 6zM536.62 162.75h6l-3 6zM544.15 158.25h6l-3 6zM551.67 167.75h6l-3 6zM559.20 160.00h6l-3 6zM566.73 161.50h6l-3 6zM574.25 157.00h6l-3 6zM581.78 157.75h6l-3 6zM589.31 160.75h6l-3 6zM596.84 160.00h6l-3 6zM604.36 157.75h6l-3 6zM611.89 154.20h6l-3 6zM619.42 158.00h6l-3 6zM626.94 155.00h6l-3 6zM634.47 155.10h6l-3 6zM642.00 159.50h6l-3 6zM649.52 156.50h6l-3 6zM657.05 155.75h6l-3 6zM664.58 148.75h6l-3 6zM672.11 148.25h6l-3 6zM679.63 143.25h6l-3 6zM687.16 144.00h6l-3 6zM694.69 142.00h6l-3 6zM702.21 131.45h6l-3 6zM709.74 130.95h6l-3 6zM717.27 125.70h6l-3 6zM724.79 121.45h6l-3 6zM732.32 112.90h6l-3 6zM739.85 104.30h6l-3 6zM747.38 91.90h6l-3 6zM754.90 75.00h6l-3 6zM762.43 30.50h6l-3 6zM769.96 45.00h6l-3 6zM777.48 50.25h6l-3 6zM785.01 42.90h6l-3 6z" fill="none" stroke="rgb(85,255,255)" stroke-opacity="0.72" stroke-width="1"/>
<path d="M92.53 309.00h6v3h-6zM100.05 285.75h6v3h-6zM107.58 279.25h6v3h-6zM115.11 273.00h6v3h-6zM122.63 271.25h6v3h-6zM130.16 270.00h6v3h-6zM137.69 268.75h6v3h-6zM145.22 265.25h6v3h-6zM152.74 267.50h6v3h-6zM160.27 265.00h6v3h-6zM167.80 266.25h6v3h-6zM175.32 264.75h6v3h-6zM182.85 267.75h6v3h-6zM190.38 266.25h6v3h-6zM197.91 266.75h6v3h-6zM205.43 267.75h6v3h-6zM212.96 264.75h6v3h-6zM220.49 265.00h6v3h-6zM228.01 264.00h6v3h-6zM235.54 263.25h6v3h-6zM243.07 261.25h6v3h-6zM250.59 259.50h6v3h-6zM258.12 261.00h6v3h-6zM265.65 259.50h6v3h-6zM273.18 258.00h6v3h-6zM280.70 258.00h6v3h-6zM288.23 238.10h6v3h-6zM295.76 242.60h6v3h-6zM303.28 238.50h6v3h-6zM310.81 232.75h6v3h-6zM318.34 236.75h6v3h-6zM325.86 222.75h6v3h-6zM333.39 220.25h6v3h-6zM340.92 220.25h6v3h-6zM348.44 212.75h6v3h-6zM355.97 217.50h6v3h-6zM363.50 208.00h6v3h-6zM371.03 211.50h6v3h-6zM378.55 209.25h6v3h-6zM386.08 205.50h6v3h-6zM393.61 204.75h6v3h-6zM401.13 206.50h6v3h-6zM408.66 201.75h6v3h-6zM416.19 200.75h6v3h-6zM423.72 199.75h6v3h-6zM431.24 199.00h6v3h-6zM438.77 198.00h6v3h-6zM446.30 198.00h6v3h-6zM453.82 195.75h6v3h-6zM461.35 197.00h6v3h-6zM468.88 195.90h6v3h-6zM476.40 194.10h6v3h-6zM483.93 193.00h6v3h-6zM491.46 192.50h6v3h-6zM498.99 191.50h6v3h-6zM506.51 190.50h6v3h-6zM514.04 190.25h6v3h-6zM521.57 189.00h6v3h-6zM529.09 189.00h6v3h-6zM536.62 188.00h6v3h-6zM544.15 186.75h6v3h-6zM551.67 187.00h6v3h-6zM559.20 186.00h6v3h-6zM566.73 184.75h6v3h-6zM574.25 184.50h6v3h-6zM581.78 184.50h6v3h-6zM589.31 182.10h6v3h-6zM596.84 182.10h6v3h-6zM604.36 179.25h6v3h-6zM611.89 179.90h6v3h-6zM619.42 178.60h6v3h-6zM626.94 176.00h6v3h-6zM634.47 175.10h6v3h-6zM642.00 175.50h6v3h-6zM649.52 172.90h6v3h-6zM657.05 172.00h6v3h-6zM664.58 167.60h6v3h-6zM672.11 166.00h6v3h-6zM679.63 162.75h6v3h-6zM687.16 161.75h6v3h-6zM694.69 157.75h6v3h-6zM702.21 144.65h6v3h-6zM709.74 141.40h6v3h-6zM717.27 139.65h6v3h-6zM724.79 135.65h6v3h-6zM732.32 127.65h6v3h-6zM739.85 125.15h6v3h-6zM747.38 111.20h6v3h-6zM754.90 95.40h6v3h-6zM762.43 57.00h6v3h-6zM769.96 70.00h6v3h-6zM777.48 68.40h6v3h-6zM785.01 65.40h6v3h-6z" stroke="none" fill="rgb(255,85,255)" fill-opacity="0.72"/>
<path d="M92.53 309.00h6v3h-6zM100.05 285.75h6v3h-6zM107.58 279.25h6v3h-6zM115.11 273.00h6v3h-6zM122.63 271.25h6v3h-6zM130.16 270.00h6v3h-6zM137.69 268.75h6v3h-6zM145.22 265.25h6v3h-6zM152.74 267.50h6v3h-6zM160.27 265.00h6v3h-6zM167.80 266.25h6v3h-6zM175.32 264.75h6v3h-6zM182.85 267.75h6v3h-6zM190.38 266.25h6v3h-6zM197.91 266.75h6v3h-6zM205.43 267.75h6v3h-6zM212.96 264.75h6v3h-6zM220.49 265.00h6v3h-6zM228.01 264.00h6v3h-6zM235.54 263.25h6v3h-6zM243.07 261.25h6v3h-6zM250.59 259.50h6v3h-6zM258.12 261.00h6v3h-6zM265.65 259.50h6v3h-6zM273.18 258.00h6v3h-6zM280.70 258.00h6v3h-6zM288.23 238.10h6v3h-6zM295.76 242.60h6v3h-6zM303.28 238.50h6v3h-6zM310.81 232.75h6v3h-6zM318.34 236.75h6v3h-6zM325.86 222.75h6v3h-6zM333.39 220.25h6v3h-6zM340.92 220.25h6v3h-6zM348.44 212.75h6v3h-6zM355.97 217.50h6v3h-6zM363.50 208.00h6v3h-6zM371.03 211.50h6v3h-6zM378.55 209.25h6v3h-6zM386.08 205.50h6v3h-6zM393.61 204.75h6v3h-6zM401.13 206.50h6v3h-6zM408.66 201.75h6v3h-6zM416.19 200.75h6v3h-6zM423.72 199.75h6v3h-6zM431.24 199.00h6v3h-6zM438.77 198.00h6v3h-6zM446.30 198.00h6v3h-6zM453.82 195.75h6v3h-6zM461.35 197.00h6v3h-6zM468.88 195.90h6v3h-6zM476.40 194.10h6v3h-6zM483.93 193.00h6v3h-6zM491.46 192.50h6v3h-6zM498.99 191.50h6v3h-6zM506.51 190.50h6v3h-6zM514.04 190.25h6v3h-6zM521.57 189.00h6v3h-6zM529.09 189.00h6v3h-6zM536.62 188.00h6v3h-6zM544.15 186.75h6v3h-6zM551.67 187.00h6v3h-6zM559.20 186.00h6v3h-6zM566.73 184.75h6v3h-6zM574.25 184.50h6v3h-6zM581.78 184.50h6v3h-6zM589.31 182.10h6v3h-6zM596.84 182.10h6v3h-6zM604.36 179.25h6v3h-6zM611.89 179.90h6v3h-6zM619.42 178.60h6v3h-6zM626.94 176.00h6v3h-6zM634.47 175.10h6v3h-6zM642.00 175.50h6v3h-6zM649.52 172.90h6v3h-6zM657.05 172.00h6v3h-6zM664.58 167.60h6v3h-6zM672.11 166.00h6v3h-6zM679.63 162.75h6v3h-6zM687.16 161.75h6v3h-6zM694.69 157.75h6v3h-6zM702.21 144.65h6v3h-6zM709.74 141.40h6v3h-6zM717.27 139.65h6v3h-6zM724.79 135.65h6v3h-6zM732.32 127.65h6v3h-6zM739.85 125.15h6v3h-6zM747.38 111.20h6v3h-6zM754.90 95.40h6v3h-6zM762.43 57.00h6v3h-6zM769.96 70.00h6v3h-6zM777.48 68.40h6v3h-6zM785.01 65.40h6v3h-6z" fill="none" stroke="rgb(255,85,255)" stroke-opacity="0.72" stroke-width="1"/>
<path d="M95.53 311.50l3 3l-3 3l-3 -3zM103.05 289.00l3 3l-3 3l-3 -3zM110.58 282.25l3 3l-3 3l-3 -3zM118.11 276.40l3 3l-3 3l-3 -3zM125.63 274.75l3 3l-3 3l-3 -3zM133.16 273.00l3 3l-3 3l-3 -3zM140.69 272.40l3 3l-3 3l-3 -3zM148.22 268.90l3 3l-3 3l-3 -3zM155.74 270.50l3 3l-3 3l-3 -3zM163.27 268.60l3 3l-3 3l-3 -3zM170.80 269.75l3 3l-3 3l-3 -3zM178.32 267.90l3 3l-3 3l-3 -3zM185.85 270.50l3 3l-3 3l-3 -3zM193.38 269.50l3 3l-3 3l-3 -3zM200.91 269.75l3 3l-3 3l-3 -3zM208.43 270.50l3 3l-3 3l-3 -3zM215.96 270.00l3 3l-3 3l-3 -3zM223.49 270.75l3 3l-3 3l-3 -3zM231.01 271.00l3 3l-3 3l-3 -3zM238.54 271.00l3 3l-3 3l-3 -3zM246.07 270.75l3 3l-3 3l-3 -3zM253.59 272.00l3 3l-3 3l-3 -3zM261.12 271.50l3 3l-3 3l-3 -3zM268.65 272.00l3 3l-3 3l-3 -3zM276.18 271.75l3 3l-3 3l-3 -3zM283.70 272.75l3 3l-3 3l-3 -3zM291.23 273.50l3 3l-3 3l-3 -3zM298.76 272.75l3 3l-3 3l-3 -3zM306.28 272.00l3 3l-3 3l-3 -3zM313.81 273.25l3 3l-3 3l-3 -3zM321.34 274.00l3 3l-3 3l-3 -3zM328.86 270.75l3 3l-3 3l-3 -3zM336.39 272.75l3 3l-3 3l-3 -3zM343.92 272.75l3 3l-3 3l-3 -3zM351.44 273.50l3 3l-3 3l-3 -3zM358.97 270.00l3 3l-3 3l-3 -3zM366.50 270.00l3 3l-3 3l-3 -3zM374.03 270.00l3 3l-3 3l-3 -3zM381.55 271.50l3 3l-3 3l-3 -3zM389.08 266.50l3 3l-3 3l-3 -3zM396.61 267.50l3 3l-3 3l-3 -3zM404.13 266.25l3 3l-3 3l-3 -3zM411.66 262.75l3 3l-3 3l-3 -3zM419.19 260.00l3 3l-3 3l-3 -3zM426.72 260.00l3 3l-3 3l-3 -3zM434.24 259.50l3 3l-3 3l-3 -3zM441.77 257.00l3 3l-3 3l-3 -3zM449.30 258.25l3 3l-3 3l-3 -3zM456.82 255.75l3 3l-3 3l-3 -3zM464.35 256.25l3 3l-3 3l-3 -3zM471.88 253.40l3 3l-3 3l-3 -3zM479.40 253.75l3 3l-3 3l-3 -3zM486.93 251.50l3 3l-3 3l-3 -3zM494.46 250.50l3 3l-3 3l-3 -3zM501.99 250.00l3 3l-3 3l-3 -3zM509.51 248.25l3 3l-3 3l-3 -3zM517.04 247.75l3 3l-3 3l-3 -3zM524.57 244.00l3 3l-3 3l-3 -3zM532.09 243.25l3 3l-3 3l-3 -3zM539.62 243.25l3 3l-3 3l-3 -3zM547.15 238.25l3 3l-3 3l-3 -3zM554.67 237.70l3 3l-3 3l-3 -3zM562.20 221.25l3 3l-3 3l-3 -3zM569.73 215.50l3 3l-3 3l-3 -3zM577.25 217.50l3 3l-3 3l-3 -3zM584.78 210.25l3 3l-3 3l-3 -3zM592.31 202.50l3 3l-3 3l-3 -3zM599.84 202.00l3 3l-3 3l-3 -3zM607.36 197.00l3 3l-3 3l-3 -3zM614.89 194.40l3 3l-3 3l-3 -3zM622.42 193.00l3 3l-3 3l-3 -3zM629.94 187.50l3 3l-3 3l-3 -3zM637.47 185.50l3 3l-3 3l-3 -3zM645.00 185.60l3 3l-3 3l-3 -3zM652.52 180.75l3 3l-3 3l-3 -3zM660.05 179.25l3 3l-3 3l-3 -3zM667.58 176.75l3 3l-3 3l-3 -3zM675.11 173.25l3 3l-3 3l-3 -3zM682.63 170.00l3 3l-3 3l-3 -3zM690.16 167.75l3 3l-3 3l-3 -3zM697.69 162.50l3 3l-3 3l-3 -3zM705.21 151.50l3 3l-3 3l-3 -3zM712.74 147.00l3 3l-3 3l-3 -3zM720.27 143.25l3 3l-3 3l-3 -3zM727.79 137.50l3 3l-3 3l-3 -3zM735.32 131.50l3 3l-3 3l-3 -3zM742.85 125.25l3 3l-3 3l-3 -3zM750.38 116.50l3 3l-3 3l-3 -3zM757.90 103.80l3 3l-3 3l-3 -3zM765.43 71.20l3 3l-3 3l-3 -3zM772.96 76.10l3 3l-3 3l-3 -3zM780.48 74.90l3 3l-3 3l-3 -3zM788.01 73.60l3 3l-3 3l-3 -3z" stroke="none" fill="rgb(255,255,85)" fill-opacity="0.72"/>
<path d="M95.53 311.50l3 3l-3 3l-3 -3zM103.05 289.00l3 3l-3 3l-3 -3zM110.58 282.25l3 3l-3 3l-3 -3zM118.11 276.40l3 3l-3 3l-3 -3zM125.63 274.75l3 3l-3 3l-3 -3zM133.16 273.00l3 3l-3 3l-3 -3zM140.69 272.40l3 3l-3 3l-3 -3zM148.22 268.90l3 3l-3 3l-3 -3zM155.74 270.50l3 3l-3 3l-3 -3zM163.27 268.60l3 3l-3 3l-3 -3zM170.80 269.75l3 3l-3 3l-3 -3zM178.32 267.90l3 3l-3 3l-3 -3zM185.85 270.50l3 3l-3 3l-3 -3zM193.38 269.50l3 3l-3 3l-3 -3zM200.91 269.75l3 3l-3 3l-3 -3zM208.43 270.50l3 3l-3 3l-3 -3zM215.96 270.00l3 3l-3 3l-3 -3zM223.49 270.75l3 3l-3 3l-3 -3zM231.01 271.00l3 3l-3 3l-3 -3zM238.54 271.00l3 3l-3 3l-3 -3zM246.07 270.75l3 3l-3 3l-3 -3zM253.59 272.00l3 3l-3 3l-3 -3zM261.12 271.50l3 3l-3 3l-3 -3zM268.65 272.00l3 3l-3 3l-3 -3zM276.18 271.75l3 3l-3 3l-3 -3zM283.70 272.75l3 3l-3 3l-3 -3zM291.23 273.50l3 3l-3 3l-3 -3zM298.76 272.75l3 3l-3 3l-3 -3zM306.28 272.00l3 3l-3 3l-3 -3zM313.81 273.25l3 3l-3 3l-3 -3zM321.34 274.00l3 3l-3 3l-3 -3zM328.86 270.75l3 3l-3 3l-3 -3zM336.39 272.75l3 3l-3 3l-3 -3zM343.92 272.75l3 3l-3 3l-3 -3zM351.44 273.50l3 3l-3 3l-3 -3zM358.97 270.00l3 3l-3 3l-3 -3zM366.50 270.00l3 3l-3 3l-3 -3zM374.03 270.00l3 3l-3 3l-3 -3zM381.55 271.50l3 3l-3 3l-3 -3zM389.08 266.50l3 3l-3 3l-3 -3zM396.61 267.50l3 3l-3 3l-3 -3zM404.13 266.25l3 3l-3 3l-3 -3zM411.66 262.75l3 3l-3 3l-3 -3zM419.19 260.00l3 3l-3 3l-3 -3zM426.72 260.00l3 3l-3 3l-3 -3zM434.24 259.50l3 3l-3 3l-3 -3zM441.77 257.00l3 3l-3 3l-3 -3zM449.30 258.25l3 3l-3 3l-3 -3zM456.82 255.75l3 3l-3 3l-3 -3zM464.35 256.25l3 3l-3 3l-3 -3zM471.88 253.40l3 3l-3 3l-3 -3zM479.40 253.75l3 3l-3 3l-3 -3zM486.93 251.50l3 3l-3 3l-3 -3zM494.46 250.50l3 3l-3 3l-3 -3zM501.99 250.00l3 3l-3 3l-3 -3zM509.51 248.25l3 3l-3 3l-3 -3zM517.04 247.75l3 3l-3 3l-3 -3zM524.57 244.00l3 3l-3 3l-3 -3zM532.09 243.25l3 3l-3 3l-3 -3zM539.62 243.25l3 3l-3 3l-3 -3zM547.15 238.25l3 3l-3 3l-3 -3zM554.67 237.70l3 3l-3 3l-3 -3zM562.20 221.25l3 3l-3 3l-3 -3zM569.73 215.50l3 3l-3 3l-3 -3zM577.25 217.50l3 3l-3 3l-3 -3zM584.78 210.25l3 3l-3 3l-3 -3zM592.31 202.50l3 3l-3 3l-3 -3zM599.84 202.00l3 3l-3 3l-3 -3zM607.36 197.00l3 3l-3 3l-3 -3zM614.89 194.40l3 3l-3 3l-3 -3zM622.42 193.00l3 3l-3 3l-3 -3zM629.94 187.50l3 3l-3 3l-3 -3zM637.47 185.50l3 3l-3 3l-3 -3zM645.00 185.60l3 3l-3 3l-3 -3zM652.52 180.75l3 3l-3 3l-3 -3zM660.05 179.25l3 3l-3 3l-3 -3zM667.58 176.75l3 3l-3 3l-3 -3zM675.11 173.25l3 3l-3 3l-3 -3zM682.63 170.00l3 3l-3 3l-3 -3zM690.16 167.75l3 3l-3 3l-3 -3zM697.69 162.50l3 3l-3 3l-3 -3zM705.21 151.50l3 3l-3 3l-3 -3zM712.74 147.00l3 3l-3 3l-3 -3zM720.27 143.25l3 3l-3 3l-3 -3zM727.79 137.50l3 3l-3 3l-3 -3zM735.32 131.50l3 3l-3 3l-3 -3zM742.85 125.25l3 3l-3 3l-3 -3zM750.38 116.50l3 3l-3 3l-3 -3zM757.90 103.80l3 3l-3 3l-3 -3zM765.43 71.20l3 3l-3 3l-3 -3zM772.96 76.10l3 3l-3 3l-3 -3zM780.48 74.90l3 3l-3 3l-3 -3zM788.01 73.60l3 3l-3 3l-3 -3z" fill="none" stroke="rgb(255,255,85)" stroke-opacity="0.72" stroke-width="1"/>
<path d="M95.53 314.50l3 6h-6zM103.05 292.50l3 6h-6zM110.58 286.25l3 6h-6zM118.11 280.00l3 6h-6zM125.63 278.25l3 6h-6zM133.16 275.00l3 6h-6zM140.69 274.50l3 6h-6zM148.22 271.25l3 6h-6zM155.74 272.75l3 6h-6zM163.27 271.50l3 6h-6zM170.80 272.75l3 6h-6zM178.32 271.25l3 6h-6zM185.85 273.00l3 6h-6zM193.38 272.50l3 6h-6zM200.91 272.75l3 6h-6zM208.43 273.50l3 6h-6zM215.96 273.00l3 6h-6zM223.49 273.75l3 6h-6zM231.01 274.00l3 6h-6zM238.54 274.00l3 6h-6zM246.07 273.75l3 6h-6zM253.59 275.25l3 6h-6zM261.12 274.75l3 6h-6zM268.65 275.25l3 6h-6zM276.18 275.00l3 6h-6zM283.70 276.00l3 6h-6zM291.23 277.00l3 6h-6zM298.76 277.00l3 6h-6zM306.28 276.00l3 6h-6zM313.81 278.25l3 6h-6zM321.34 278.25l3 6h-6zM328.86 277.00l3 6h-6zM336.39 277.75l3 6h-6zM343.92 277.75l3 6h-6zM351.44 277.75l3 6h-6zM358.97 277.00l3 6h-6zM366.50 277.00l3 6h-6zM374.03 277.75l3 6h-6zM381.55 277.75l3 6h-6zM389.08 277.75l3 6h-6zM396.61 277.75l3 6h-6zM404.13 276.50l3 6h-6zM411.66 275.75l3 6h-6zM419.19 274.50l3 6h-6zM426.72 275.25l3 6h-6zM434.24 275.25l3 6h-6zM441.77 273.50l3 6h-6zM449.30 274.50l3 6h-6zM456.82 274.50l3 6h-6zM464.35 274.00l3 6h-6zM471.88 271.00l3 6h-6zM479.40 272.75l3 6h-6zM486.93 269.50l3 6h-6zM494.46 267.75l3 6h-6zM501.99 271.50l3 6h-6zM509.51 266.50l3 6h-6zM517.04 265.00l3 6h-6zM524.57 258.50l3 6h-6zM532.09 258.00l3 6h-6zM539.62 258.25l3 6h-6zM547.15 256.00l3 6h-6zM554.67 254.00l3 6h-6zM562.20 251.50l3 6h-6zM569.73 250.00l3 6h-6zM577.25 250.00l3 6h-6zM584.78 247.00l3 6h-6zM592.31 244.00l3 6h-6zM599.84 242.50l3 6h-6zM607.36 240.00l3 6h-6zM614.89 236.00l3 6h-6zM622.42 235.00l3 6h-6zM629.94 215.75l3 6h-6zM637.47 203.75l3 6h-6zM645.00 208.25l3 6h-6zM652.52 194.00l3 6h-6zM660.05 192.40l3 6h-6zM667.58 185.40l3 6h-6zM675.11 179.80l3 6h-6zM682.63 177.80l3 6h-6zM690.16 173.25l3 6h-6zM697.69 168.75l3 6h-6zM705.21 157.00l3 6h-6zM712.74 152.00l3 6h-6zM720.27 148.25l3 6h-6zM727.79 142.00l3 6h-6zM735.32 135.75l3 6h-6zM742.85 129.50l3 6h-6zM750.38 120.75l3 6h-6zM757.90 112.00l3 6h-6zM765.43 79.40l3 6h-6zM772.96 80.50l3 6h-6zM780.48 80.50l3 6h-6zM788.01 80.00l3 6h-6z" stroke="none" fill="rgb(85,255,85)" fill-opacity="0.72"/>
<path d="M95.53 314.50l3 6h-6zM103.05 292.50l3 6h-6zM110.58 286.25l3 6h-6zM118.11 280.00l3 6h-6zM125.63 278.25l3 6h-6zM133.16 275.00l3 6h-6zM140.69 274.50l3 6h-6zM148.22 271.25l3 6h-6zM155.74 272.75l3 6h-6zM163.27 271.50l3 6h-6zM170.80 272.75l3 6h-6zM178.32 271.25l3 6h-6zM185.85 273.00l3 6h-6zM193.38 272.50l3 6h-6zM200.91 272.75l3 6h-6zM208.43 273.50l3 6h-6zM215.96 273.00l3 6h-6zM223.49 273.75l3 6h-6zM231.01 274.00l3 6h-6zM238.54 274.00l3 6h-6zM246.07 273.75l3 6h-6zM253.59 275.25l3 6h-6zM261.12 274.75l3 6h-6zM268.65 275.25l3 6h-6zM276.18 275.00l3 6h-6zM283.70 276.00l3 6h-6zM291.23 277.00l3 6h-6zM298.76 277.00l3 6h-6zM306.28 276.00l3 6h-6zM313.81 278.25l3 6h-6zM321.34 278.25l3 6h-6zM328.86 277.00l3 6h-6zM336.39 277.75l3 6h-6zM343.92 277.75l3 6h-6zM351.44 277.75l3 6h-6zM358.97 277.00l3 6h-6zM366.50 277.00l3 6h-6zM374.03 277.75l3 6h-6zM381.55 277.75l3 6h-6zM389.08 277.75l3 6h-6zM396.61 277.75l3 6h-6zM404.13 276.50l3 6h-6zM411.66 275.75l3 6h-6zM419.19 274.50l3 6h-6zM426.72 275.25l3 6h-6zM434.24 275.25l3 6h-6zM441.77 273.50l3 6h-6zM449.30 274.50l3 6h-6zM456.82 274.50l3 6h-6zM464.35 274.00l3 6h-6zM471.88 271.00l3 6h-6zM479.40 272.75l3 6h-6zM486.93 269.50l3 6h-6zM494.46 267.75l3 6h-6zM501.99 271.50l3 6h-6zM509.51 266.50l3 6h-6zM517.04 265.00l3 6h-6zM524.57 258.50l3 6h-6zM532.09 258.00l3 6h-6zM539.62 258.25l3 6h-6zM547.15 256.00l3 6h-6zM554.67 254.00l3 6h-6zM562.20 251.50l3 6h-6zM569.73 250.00l3 6h-6zM577.25 250.00l3 6h-6zM584.78 247.00l3 6h-6zM592.31 244.00l3 6h-6zM599.84 242.50l3 6h-6zM607.36 240.00l3 6h-6zM614.89 236.00l3 6h-6zM622.42 235.00l3 6h-6zM629.94 215.75l3 6h-6zM637.47 203.75l3 6h-6zM645.00 208.25l3 6h-6zM652.52 194.00l3 6h-6zM660.05 192.40l3 6h-6zM667.58 185.40l3 6h-6zM675.11 179.80l3 6h-6zM682.63 177.80l3 6h-6zM690.16 173.25l3 6h-6zM697.69 168.75l3 6h-6zM705.21 157.00l3 6h-6zM712.74 152.00l3 6h-6zM720.27 148.25l3 6h-6zM727.79 142.00l3 6h-6zM735.32 135.75l3 6h-6zM742.85 129.50l3 6h-6zM750.38 120.75l3 6h-6zM757.90 112.00l3 6h-6zM765.43 79.40l3 6h-6zM772.96 80.50l3 6h-6zM780.48 80.50l3 6h-6zM788.01 80.00l3 6h-6z" fill="none" stroke="rgb(85,255,85)" stroke-opacity="0.72" stroke-width="1"/>
<path d="M92.53 323.40a3 3 0 1 0 6 0a3 3 0 1 0 -6 0zM100.05 301.80a3 3 0 1 0 6 0a3 3 0 1 0 -6 0zM107.58 296.25a3 3 0 1 0 6 0a3 3 0 1 0 -6 0zM115.11 291.80a3 3 0 1 0 6 0a3 3 0 1 0 -6 0zM122.63 289.75a3 3 0 1 0 6 0a3 3 0 1 0 -6 0zM130.16 287.25a3 3 0 1 0 6 0a3 3 0 1 0 -6 0zM137.69 287.25a3 3 0 1 0 6 0a3 3 0 1 0 -6 0zM145.22 283.90a3 3 0 1 0 6 0a3 3 0 1 0 -6 0zM152.74 284.50a3 3 0 1 0 6 0a3 3 0 1 0 -6 0zM160.27 283.90a3 3 0 1 0 6 0a3 3 0 1 0 -6 0zM167.80 283.90a3 3 0 1 0 6 0a3 3 0 1 0 -6 0zM175.32 282.50a3 3 0 1 0 6 0a3 3 0 1 0 -6 0zM182.85 283.75a3 3 0 1 0 6 0a3 3 0 1 0 -6 0zM190.38 283.75a3 3 0 1 0 6 0a3 3 0 1 0 -6 0zM197.91 284.75a3 3 0 1 0 6 0a3 3 0 1 0 -6 0zM205.43 285.25a3 3 0 1 0 6 0a3 3 0 1 0 -6 0zM212.96 284.75a3 3 0 1 0 6 0a3 3 0 1 0 -6 0zM220.49 285.25a3 3 0 1 0 6 0a3 3 0 1 0 -6 0zM228.01 285.50a3 3 0 1 0 6 0a3 3 0 1 0 -6 0zM235.54 285.75a3 3 0 1 0 6 0a3 3 0 1 0 -6 0zM243.07 285.50a3 3 0 1 0 6 0a3 3 0 1 0 -6 0zM250.59 287.25a3 3 0 1 0 6 0a3 3 0 1 0 -6 0zM258.12 287.25a3 3 0 1 0 6 0a3 3 0 1 0 -6 0zM265.65 288.00a3 3 0 1 0 6 0a3 3 0 1 0 -6 0zM273.18 288.00a3 3 0 1 0 6 0a3 3 0 1 0 -6 0zM280.70 288.25a3 3 0 1 0 6 0a3 3 0 1 0 -6 0zM288.23 288.75a3 3 0 1 0 6 0a3 3 0 1 0 -6 0zM295.76 289.50a3 3 0 1 0 6 0a3 3 0 1 0 -6 0zM303.28 289.00a3 3 0 1 0 6 0a3 3 0 1 0 -6 0zM310.81 289.50a3 3 0 1 0 6 0a3 3 0 1 0 -6 0zM318.34 289.75a3 3 0 1 0 6 0a3 3 0 1 0 -6 0zM325.86 288.75a3 3 0 1 0 6 0a3 3 0 1 0 -6 0zM333.39 289.75a3 3 0 1 0 6 0a3 3 0 1 0 -6 0zM340.92 289.75a3 3 0 1 0 6 0a3 3 0 1 0 -6 0zM348.44 289.75a3 3 0 1 0 6 0a3 3 0 1 0 -6 0zM355.97 289.00a3 3 0 1 0 6 0a3 3 0 1 0 -6 0zM363.50 289.75a3 3 0 1 0 6 0a3 3 0 1 0 -6 0zM371.03 289.00a3 3 0 1 0 6 0a3 3 0 1 0 -6 0zM378.55 289.00a3 3 0 1 0 6 0a3 3 0 1 0 -6 0zM386.08 289.00a3 3 0 1 0 6 0a3 3 0 1 0 -6 0zM393.61 289.00a3 3 0 1 0 6 0a3 3 0 1 0 -6 0zM401.13 288.75a3 3 0 1 0 6 0a3 3 0 1 0 -6 0zM408.66 288.25a3 3 0 1 0 6 0a3 3 0 1 0 -6 0zM416.19 288.25a3 3 0 1 0 6 0a3 3 0 1 0 -6 0zM423.72 288.25a3 3 0 1 0 6 0a3 3 0 1 0 -6 0zM431.24 288.25a3 3 0 1 0 6 0a3 3 0 1 0 -6 0zM438.77 288.25a3 3 0 1 0 6 0a3 3 0 1 0 -6 0zM446.30 288.25a3 3 0 1 0 6 0a3 3 0 1 0 -6 0zM453.82 288.25a3 3 0 1 0 6 0a3 3 0 1 0 -6 0zM461.35 288.00a3 3 0 1 0 6 0a3 3 0 1 0 -6 0zM468.88 287.00a3 3 0 1 0 6 0a3 3 0 1 0 -6 0zM476.40 287.00a3 3 0 1 0 6 0a3 3 0 1 0 -6 0zM483.93 287.00a3 3 0 1 0 6 0a3 3 0 1 0 -6 0zM491.46 287.00a3 3 0 1 0 6 0a3 3 0 1 0 -6 0zM498.99 287.00a3 3 0 1 0 6 0a3 3 0 1 0 -6 0zM506.51 287.00a3 3 0 1 0 6 0a3 3 0 1 0 -6 0zM514.04 287.00a3 3 0 1 0 6 0a3 3 0 1 0 -6 0zM521.57 286.50a3 3 0 1 0 6 0a3 3 0 1 0 -6 0zM529.09 286.50a3 3 0 1 0 6 0a3 3 0 1 0 -6 0zM536.62 286.50a3 3 0 1 0 6 0a3 3 0 1 0 -6 0zM544.15 286.25a3 3 0 1 0 6 0a3 3 0 1 0 -6 0zM551.67 285.75a3 3 0 1 0 6 0a3 3 0 1 0 -6 0zM559.20 285.75a3 3 0 1 0 6 0a3 3 0 1 0 -6 0zM566.73 285.75a3 3 0 1 0 6 0a3 3 0 1 0 -6 0zM574.25 285.75a3 3 0 1 0 6 0a3 3 0 1 0 -6 0zM581.78 285.00a3 3 0 1 0 6 0a3 3 0 1 0 -6 0zM589.31 284.50a3 3 0 1 0 6 0a3 3 0 1 0 -6 0zM596.84 284.00a3 3 0 1 0 6 0a3 3 0 1 0 -6 0zM604.36 283.75a3 3 0 1 0 6 0a3 3 0 1 0 -6 0zM611.89 283.00a3 3 0 1 0 6 0a3 3 0 1 0 -6 0zM619.42 282.25a3 3 0 1 0 6 0a3 3 0 1 0 -6 0zM626.94 281.50a3 3 0 1 0 6 0a3 3 0 1 0 -6 0zM634.47 280.50a3 3 0 1 0 6 0a3 3 0 1 0 -6 0zM642.00 279.80a3 3 0 1 0 6 0a3 3 0 1 0 -6 0zM649.52 277.50a3 3 0 1 0 6 0a3 3 0 1 0 -6 0zM657.05 275.80a3 3 0 1 0 6 0a3 3 0 1 0 -6 0zM664.58 267.40a3 3 0 1 0 6 0a3 3 0 1 0 -6 0zM672.11 254.30a3 3 0 1 0 6 0a3 3 0 1 0 -6 0zM679.63 245.00a3 3 0 1 0 6 0a3 3 0 1 0 -6 0zM687.16 234.25a3 3 0 1 0 6 0a3 3 0 1 0 -6 0zM694.69 209.50a3 3 0 1 0 6 0a3 3 0 1 0 -6 0zM702.21 196.60a3 3 0 1 0 6 0a3 3 0 1 0 -6 0zM709.74 182.50a3 3 0 1 0 6 0a3 3 0 1 0 -6 0zM717.27 173.75a3 3 0 1 0 6 0a3 3 0 1 0 -6 0zM724.79 162.50a3 3 0 1 0 6 0a3 3 0 1 0 -6 0zM732.32 158.00a3 3 0 1 0 6 0a3 3 0 1 0 -6 0zM739.85 146.25a3 3 0 1 0 6 0a3 3 0 1 0 -6 0zM747.38 138.00a3 3 0 1 0 6 0a3 3 0 1 0 -6 0zM754.90 132.50a3 3 0 1 0 6 0a3 3 0 1 0 -6 0zM762.43 106.90a3 3 0 1 0 6 0a3 3 0 1 0 -6 0zM769.96 103.75a3 3 0 1 0 6 0a3 3 0 1 0 -6 0zM777.48 104.60a3 3 0 1 0 6 0a3 3 0 1 0 -6 0zM785.01 103.75a3 3 0 1 0 6 0a3 3 0 1 0 -6 0z" stroke="none" fill="rgb(85,85,255)" fill-opacity="0.72"/>
<path d="M92.53 323.40a3 3 0 1 0 6 0a3 3 0 1 0 -6 0zM100.05 301.80a3 3 0 1 0 6 0a3 3 0 1 0 -6 0zM107.58 296.25a3 3 0 1 0 6 0a3 3 0 1 0 -6 0zM115.11 291.80a3 3 0 1 0 6 0a3 3 0 1 0 -6 0zM122.63 289.75a3 3 0 1 0 6 0a3 3 0 1 0 -6 0zM130.16 287.25a3 3 0 1 0 6 0a3 3 0 1 0 -6 0zM137.69 287.25a3 3 0 1 0 6 0a3 3 0 1 0 -6 0zM145.22 283.90a3 3 0 1 0 6 0a3 3 0 1 0 -6 0zM152.74 284.50a3 3 0 1 0 6 0a3 3 0 1 0 -6 0zM160.27 283.90a3 3 0 1 0 6 0a3 3 0 1 0 -6 0zM167.80 283.90a3 3 0 1 0 6 0a3 3 0 1 0 -6 0zM175.32 282.50a3 3 0 1 0 6 0a3 3 0 1 0 -6 0zM182.85 283.75a3 3 0 1 0 6 0a3 3 0 1 0 -6 0zM190.38 283.75a3 3 0 1 0 6 0a3 3 0 1 0 -6 0zM197.91 284.75a3 3 0 1 0 6 0a3 3 0 1 0 -6 0zM205.43 285.25a3 3 0 1 0 6 0a3 3 0 1 0 -6 0zM212.96 284.75a3 3 0 1 0 6 0a3 3 0 1 0 -6 0zM220.49 285.25a3 3 0 1 0 6 0a3 3 0 1 0 -6 0zM228.01 285.50a3 3 0 1 0 6 0a3 3 0 1 0 -6 0zM235.54 285.75a3 3 0 1 0 6 0a3 3 0 1 0 -6 0zM243.07 285.50a3 3 0 1 0 6 0a3 3 0 1 0 -6 0zM250.59 287.25a3 3 0 1 0 6 0a3 3 0 1 0 -6 0zM258.12 287.25a3 3 0 1 0 6 0a3 3 0 1 0 -6 0zM265.65 288.00a3 3 0 1 0 6 0a3 3 0 1 0 -6 0zM273.18 288.00a3 3 0 1 0 6 0a3 3 0 1 0 -6 0zM280.70 288.25a3 3 0 1 0 6 0a3 3 0 1 0 -6 0zM288.23 288.75a3 3 0 1 0 6 0a3 3 0 1 0 -6 0zM295.76 289.50a3 3 0 1 0 6 0a3 3 0 1 0 -6 0zM303.28 289.00a3 3 0 1 0 6 0a3 3 0 1 0 -6 0zM310.81 289.50a3 3 0 1 0 6 0a3 3 0 1 0 -6 0zM318.34 289.75a3 3 0 1 0 6 0a3 3 0 1 0 -6 0zM325.86 288.75a3 3 0 1 0 6 0a3 3 0 1 0 -6 0zM333.39 289.75a3 3 0 1 0 6 0a3 3 0 1 0 -6 0zM340.92 289.75a3 3 0 1 0 6 0a3 3 0 1 0 -6 0zM348.44 289.75a3 3 0 1 0 6 0a3 3 0 1 0 -6 0zM355.97 289.00a3 3 0 1 0 6 0a3 3 0 1 0 -6 0zM363.50 289.75a3 3 0 1 0 6 0a3 3 0 1 0 -6 0zM371.03 289.00a3 3 0 1 0 6 0a3 3 0 1 0 -6 0zM378.55 289.00a3 3 0 1 0 6 0a3 3 0 1 0 -6 0zM386.08 289.00a3 3 0 1 0 6 0a3 3 0 1 0 -6 0zM393.61 289.00a3 3 0 1 0 6 0a3 3 0 1 0 -6 0zM401.13 288.75a3 3 0 1 0 6 0a3 3 0 1 0 -6 0zM408.66 288.25a3 3 0 1 0 6 0a3 3 0 1 0 -6 0zM416.19 288.25a3 3 0 1 0 6 0a3 3 0 1 0 -6 0zM423.72 288.25a3 3 0 1 0 6 0a3 3 0 1 0 -6 0zM431.24 288.25a3 3 0 1 0 6 0a3 3 0 1 0 -6 0zM438.77 288.25a3 3 0 1 0 6 0a3 3 0 1 0 -6 0zM446.30 288.25a3 3 0 1 0 6 0a3 3 0 1 0 -6 0zM453.82 288.25a3 3 0 1 0 6 0a3 3 0 1 0 -6 0zM461.35 288.00a3 3 0 1 0 6 0a3 3 0 1 0 -6 0zM468.88 287.00a3 3 0 1 0 6 0a3 3 0 1 0 -6 0zM476.40 287.00a3 3 0 1 0 6 0a3 3 0 1 0 -6 0zM483.93 287.00a3 3 0 1 0 6 0a3 3 0 1 0 -6 0zM491.46 287.00a3 3 0 1 0 6 0a3 3 0 1 0 -6 0zM498.99 287.00a3 3 0 1 0 6 0a3 3 0 1 0 -6 0zM506.51 287.00a3 3 0 1 0 6 0a3 3 0 1 0 -6 0zM514.04 287.00a3 3 0 1 0 6 0a3 3 0 1 0 -6 0zM521.57 286.50a3 3 0 1 0 6 0a3 3 0 1 0 -6 0zM529.09 286.50a3 3 0 1 0 6 0a3 3 0 1 0 -6 0zM536.62 286.50a3 3 0 1 0 6 0a3 3 0 1 0 -6 0zM544.15 286.25a3 3 0 1 0 6 0a3 3 0 1 0 -6 0zM551.67 285.75a3 3 0 1 0 6 0a3 3 0 1 0 -6 0zM559.20 285.75a3 3 0 1 0 6 0a3 3 0 1 0 -6 0zM566.73 285.75a3 3 0 1 0 6 0a3 3 0 1 0 -6 0zM574.25 285.75a3 3 0 1 0 6 0a3 3 0 1 0 -6 0zM581.78 285.00a3 3 0 1 0 6 0a3 3 0 1 0 -6 0zM589.31 284.50a3 3 0 1 0 6 0a3 3 0 1 0 -6 0zM596.84 284.00a3 3 0 1 0 6 0a3 3 0 1 0 -6 0zM604.36 283.75a3 3 0 1 0 6 0a3 3 0 1 0 -6 0zM611.89 283.00a3 3 0 1 0 6 0a3 3 0 1 0 -6 0zM619.42 282.25a3 3 0 1 0 6 0a3 3 0 1 0 -6 0zM626.94 281.50a3 3 0 1 0 6 0a3 3 0 1 0 -6 0zM634.47 280.50a3 3 0 1 0 6 0a3 3 0 1 0 -6 0zM642.00 279.80a3 3 0 1 0 6 0a3 3 0 1 0 -6 0zM649.52 277.50a3 3 0 1 0 6 0a3 3 0 1 0 -6 0zM657.05 275.80a3 3 0 1 0 6 0a3 3 0 1 0 -6 0zM664.58 267.40a3 3 0 1 0 6 0a3 3 0 1 0 -6 0zM672.11 254.30a3 3 0 1 0 6 0a3 3 0 1 0 -6 0zM679.63 245.00a3 3 0 1 0 6 0a3 3 0 1 0 -6 0zM687.16 234.25a3 3 0 1 0 6 0a3 3 0 1 0 -6 0zM694.69 209.50a3 3 0 1 0 6 0a3 3 0 1 0 -6 0zM702.21 196.60a3 3 0 1 0 6 0a3 3 0 1 0 -6 0zM709.74 182.50a3 3 0 1 0 6 0a3 3 0 1 0 -6 0zM717.27 173.75a3 3 0 1 0 6 0a3 3 0 1 0 -6 0zM724.79 162.50a3 3 0 1 0 6 0a3 3 0 1 0 -6 0zM732.32 158.00a3 3 0 1 0 6 0a3 3 0 1 0 -6 0zM739.85 146.25a3 3 0 1 0 6 0a3 3 0 1 0 -6 0zM747.38 138.00a3 3 0 1 0 6 0a3 3 0 1 0 -6 0zM754.90 132.50a3 3 0 1 0 6 0a3 3 0 1 0 -6 0zM762.43 106.90a3 3 0 1 0 6 0a3 3 0 1 0 -6 0zM769.96 103.75a3 3 0 1 0 6 0a3 3 0 1 0 -6 0zM777.48 104.60a3 3 0 1 0 6 0a3 3 0 1 0 -6 0zM785.01 103.75a3 3 0 1 0 6 0a3 3 0 1 0 -6 0z" fill="none" stroke="rgb(85,85,255)" stroke-opacity="0.72" stroke-width="1"/>
<path d="M100.05 317.25h6v6h-6zM107.58 314.50h6v6h-6zM115.11 317.60h6v6h-6zM122.63 317.60h6v6h-6zM130.16 317.60h6v6h-6zM137.69 317.60h6v6h-6zM145.22 320.50h6v6h-6zM152.74 320.50h6v6h-6zM167.80 324.20h6v6h-6zM724.79 324.50h6v6h-6zM732.32 324.50h6v6h-6zM739.85 320.40h6v6h-6zM747.38 220.40h6v6h-6zM754.90 284.40h6v6h-6zM762.43 178.00h6v6h-6zM769.96 169.00h6v6h-6zM777.48 194.00h6v6h-6zM785.01 161.50h6v6h-6z" stroke="none" fill="rgb(255,85,85)" fill-opacity="0.72"/>
<path d="M100.05 317.25h6v6h-6zM107.58 314.50h6v6h-6zM115.11 317.60h6v6h-6zM122.63 317.60h6v6h-6zM130.16 317.60h6v6h-6zM137.69 317.60h6v6h-6zM145.22 320.50h6v6h-6zM152.74 320.50h6v6h-6zM167.80 324.20h6v6h-6zM724.79 324.50h6v6h-6zM732.32 324.50h6v6h-6zM739.85 320.40h6v6h-6zM747.38 220.40h6v6h-6zM754.90 284.40h6v6h-6zM762.43 178.00h6v6h-6zM769.96 169.00h6v6h-6zM777.48 194.00h6v6h-6zM785.01 161.50h6v6h-6z" fill="none" stroke="rgb(255,85,85)" stroke-opacity="0.72" stroke-width="1"/>
</g>
<line x1="373" y1="10.5" x2="373" y2="327.5" stroke="#ffc800" stroke-width="2"/>
<line x1="758" y1="10.5" x2="758" y2="327.5" stroke="#ff0000" stroke-width="2"/>
<text x="372.8" y="20.6" font-size="9" text-anchor="middle" textLength="60.4" lengthAdjust="spacing" style="fill:#000;stroke:#000;stroke-width:0.12px">critical-jOPS</text>
<text x="758.1" y="20.6" font-size="9" text-anchor="middle" textLength="44.6" lengthAdjust="spacing" style="fill:#000;stroke:#000;stroke-width:0.12px">max-jOPS</text>
<rect x="88.5" y="10.5" width="700" height="317" fill="none" stroke="#555555" stroke-width="1"/>
<g stroke="#a0a0a0" stroke-width="1" fill="none">
<line x1="84.5" y1="10" x2="84.5" y2="328"/>
<line x1="88" y1="331.5" x2="789" y2="331.5"/>
<line x1="82" y1="317.5" x2="84.5" y2="317.5" stroke="#adadad"/>
<line x1="82" y1="299.5" x2="84.5" y2="299.5" stroke="#adadad"/>
<line x1="82" y1="288.5" x2="84.5" y2="288.5" stroke="#adadad"/>
<line x1="82" y1="280.5" x2="84.5" y2="280.5" stroke="#adadad"/>
<line x1="82" y1="274.5" x2="84.5" y2="274.5" stroke="#adadad"/>
<line x1="82" y1="269.5" x2="84.5" y2="269.5" stroke="#adadad"/>
<line x1="82" y1="265.5" x2="84.5" y2="265.5" stroke="#adadad"/>
<line x1="82" y1="261.5" x2="84.5" y2="261.5" stroke="#adadad"/>
<line x1="82" y1="258.5" x2="84.5" y2="258.5" stroke="#adadad"/>
<line x1="82" y1="255.5" x2="84.5" y2="255.5" stroke="#adadad"/>
<line x1="82" y1="236.5" x2="84.5" y2="236.5" stroke="#adadad"/>
<line x1="82" y1="226.5" x2="84.5" y2="226.5" stroke="#adadad"/>
<line x1="82" y1="218.5" x2="84.5" y2="218.5" stroke="#adadad"/>
<line x1="82" y1="212.5" x2="84.5" y2="212.5" stroke="#adadad"/>
<line x1="82" y1="207.5" x2="84.5" y2="207.5" stroke="#adadad"/>
<line x1="82" y1="203.5" x2="84.5" y2="203.5" stroke="#adadad"/>
<line x1="82" y1="199.5" x2="84.5" y2="199.5" stroke="#adadad"/>
<line x1="82" y1="196.5" x2="84.5" y2="196.5" stroke="#adadad"/>
<line x1="82" y1="193.5" x2="84.5" y2="193.5" stroke="#adadad"/>
<line x1="82" y1="174.5" x2="84.5" y2="174.5" stroke="#adadad"/>
<line x1="82" y1="164.5" x2="84.5" y2="164.5" stroke="#adadad"/>
<line x1="82" y1="156.5" x2="84.5" y2="156.5" stroke="#adadad"/>
<line x1="82" y1="150.5" x2="84.5" y2="150.5" stroke="#adadad"/>
<line x1="82" y1="145.5" x2="84.5" y2="145.5" stroke="#adadad"/>
<line x1="82" y1="141.5" x2="84.5" y2="141.5" stroke="#adadad"/>
<line x1="82" y1="137.5" x2="84.5" y2="137.5" stroke="#adadad"/>
<line x1="82" y1="134.5" x2="84.5" y2="134.5" stroke="#adadad"/>
<line x1="82" y1="131.5" x2="84.5" y2="131.5" stroke="#adadad"/>
<line x1="82" y1="112.5" x2="84.5" y2="112.5" stroke="#adadad"/>
<line x1="82" y1="101.5" x2="84.5" y2="101.5" stroke="#adadad"/>
<line x1="82" y1="94.5" x2="84.5" y2="94.5" stroke="#adadad"/>
<line x1="82" y1="88.5" x2="84.5" y2="88.5" stroke="#adadad"/>
<line x1="82" y1="83.5" x2="84.5" y2="83.5" stroke="#adadad"/>
<line x1="82" y1="79.5" x2="84.5" y2="79.5" stroke="#adadad"/>
<line x1="82" y1="75.5" x2="84.5" y2="75.5" stroke="#adadad"/>
<line x1="82" y1="72.5" x2="84.5" y2="72.5" stroke="#adadad"/>
<line x1="82" y1="69.5" x2="84.5" y2="69.5" stroke="#adadad"/>
<line x1="82" y1="50.5" x2="84.5" y2="50.5" stroke="#adadad"/>
<line x1="82" y1="39.5" x2="84.5" y2="39.5" stroke="#adadad"/>
<line x1="82" y1="32.5" x2="84.5" y2="32.5" stroke="#adadad"/>
<line x1="82" y1="26.5" x2="84.5" y2="26.5" stroke="#adadad"/>
<line x1="82" y1="21.5" x2="84.5" y2="21.5" stroke="#adadad"/>
<line x1="82" y1="17.5" x2="84.5" y2="17.5" stroke="#adadad"/>
<line x1="82" y1="13.5" x2="84.5" y2="13.5" stroke="#adadad"/>
<line x1="82" y1="10.5" x2="84.5" y2="10.5" stroke="#adadad"/>
<line x1="88.5" y1="331" x2="88.5" y2="334" stroke="#555"/>
<line x1="164.5" y1="331" x2="164.5" y2="334" stroke="#555"/>
<line x1="240.5" y1="331" x2="240.5" y2="334" stroke="#555"/>
<line x1="316.5" y1="331" x2="316.5" y2="334" stroke="#555"/>
<line x1="393.5" y1="331" x2="393.5" y2="334" stroke="#555"/>
<line x1="469.5" y1="331" x2="469.5" y2="334" stroke="#555"/>
<line x1="545.5" y1="331" x2="545.5" y2="334" stroke="#555"/>
<line x1="622.5" y1="331" x2="622.5" y2="334" stroke="#555"/>
<line x1="698.5" y1="331" x2="698.5" y2="334" stroke="#555"/>
<line x1="774.5" y1="331" x2="774.5" y2="334" stroke="#555"/>
</g>
<text x="78.6" y="321.0" font-size="9.5" text-anchor="end">1000</text>
<text x="78.6" y="259.0" font-size="9.5" text-anchor="end">10000</text>
<text x="78.6" y="197.0" font-size="9.5" text-anchor="end">100000</text>
<text x="78.6" y="135.0" font-size="9.5" text-anchor="end">1000000</text>
<text x="78.6" y="73.0" font-size="9.5" text-anchor="end">10000000</text>
<text x="84.50" y="346" font-size="12" textLength="6.8" lengthAdjust="spacing">0</text>
<text x="142.25" y="346" font-size="12" textLength="43.5" lengthAdjust="spacing">20,000</text>
<text x="219.15" y="346" font-size="12" textLength="43.5" lengthAdjust="spacing">40,000</text>
<text x="295.05" y="346" font-size="12" textLength="43.5" lengthAdjust="spacing">60,000</text>
<text x="371.15" y="346" font-size="12" textLength="43.5" lengthAdjust="spacing">80,000</text>
<text x="444.05" y="346" font-size="12" textLength="51.5" lengthAdjust="spacing">100,000</text>
<text x="520.00" y="346" font-size="12" textLength="51.5" lengthAdjust="spacing">120,000</text>
<text x="596.15" y="346" font-size="12" textLength="51.5" lengthAdjust="spacing">140,000</text>
<text x="672.15" y="346" font-size="12" textLength="51.5" lengthAdjust="spacing">160,000</text>
<text x="749.25" y="346" font-size="12" textLength="51.5" lengthAdjust="spacing">180,000</text>
<text x="437.3" y="364.9" font-size="14" text-anchor="middle" style="fill:#333;stroke:#333;stroke-width:0.45px" textLength="35.8" lengthAdjust="spacingAndGlyphs">jOPS</text>
<text class="yl" transform="translate(22.3,177.5) rotate(-90)" font-size="12" text-anchor="middle" textLength="111.5" lengthAdjust="spacing">Response time, usec</text>
<rect x="131.5" y="377.5" width="537.5" height="21" fill="#fff" stroke="#000" stroke-width="1"/>
<path d="M138.60 385.40h6v6h-6z" fill="rgb(255,85,85)" stroke="rgb(255,85,85)" stroke-width="0.9"/>
<text x="153.0" y="391.6" font-size="12" fill="#222" textLength="22.3" lengthAdjust="spacing">min</text>
<path d="M184.50 388.40a3 3 0 1 0 6 0a3 3 0 1 0 -6 0z" fill="rgb(85,85,255)" stroke="rgb(85,85,255)" stroke-width="0.9"/>
<text x="199.0" y="391.6" font-size="12" fill="#222" textLength="46.2" lengthAdjust="spacing">median</text>
<path d="M257.60 385.40l3 6h-6z" fill="rgb(85,255,85)" stroke="rgb(85,255,85)" stroke-width="0.9"/>
<text x="269.2" y="391.6" font-size="12" fill="#222" textLength="100.0" lengthAdjust="spacing">90-th percentile</text>
<path d="M381.60 385.40l3 3l-3 3l-3 -3z" fill="rgb(255,255,85)" stroke="rgb(255,255,85)" stroke-width="0.9"/>
<text x="393.0" y="391.6" font-size="12" fill="#222" textLength="100.0" lengthAdjust="spacing">95-th percentile</text>
<path d="M502.40 386.90h6v3h-6z" fill="rgb(255,85,255)" stroke="rgb(255,85,255)" stroke-width="0.9"/>
<text x="516.8" y="391.6" font-size="12" fill="#222" textLength="100.0" lengthAdjust="spacing">99-th percentile</text>
<path d="M626.80 385.40h6l-3 6z" fill="rgb(85,255,255)" stroke="rgb(85,255,255)" stroke-width="0.9"/>
<text x="641.2" y="391.6" font-size="12" fill="#222" textLength="24.8" lengthAdjust="spacing">max</text>
</svg></body></html>
